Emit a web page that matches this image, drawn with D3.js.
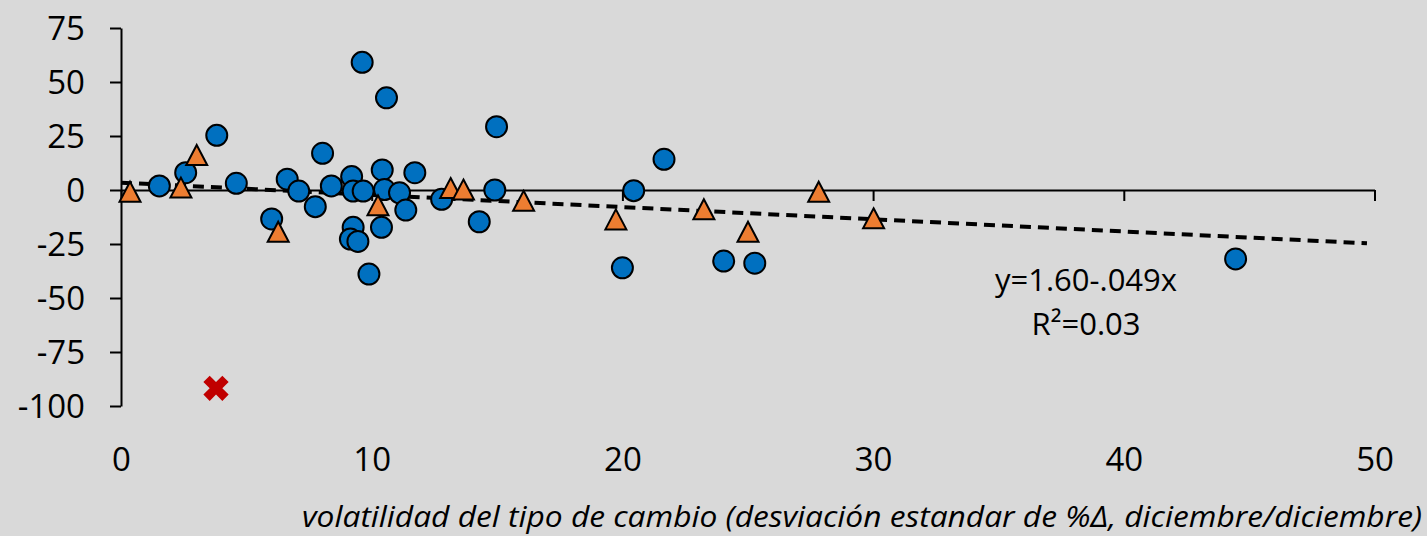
<!DOCTYPE html>
<html>
<head>
<meta charset="utf-8">
<script src="https://cdn.jsdelivr.net/npm/d3@7"></script>
<style>
  body { margin: 0; background: #d9d9d9; }
  text { font-family: "Open Sans", "Noto Sans", sans-serif; fill: #000; }
</style>
</head>
<body>
<div class="chart"></div>
<script>
// circulos azules
const circleX = [1.53, 2.58, 3.82, 4.60, 6.01, 6.63, 7.09, 7.75, 8.04, 8.39,
                 9.20, 9.26, 9.66, 9.62, 10.59, 10.42, 10.51, 11.11, 11.36, 11.72,
                 9.26, 10.39, 9.15, 9.45, 9.89, 12.79, 14.29, 14.91, 14.98, 20.0,
                 20.45, 21.66, 24.04, 25.28, 44.46];
const circleY = [1.9, 8.0, 25.3, 3.1, -13.4, 5.0, -0.5, -7.7, 17.0, 1.9,
                 6.2, -0.5, -0.5, 59.1, 42.7, 9.3, 0.2, -1.3, -9.3, 8.0,
                 -17.3, -17.3, -22.7, -23.8, -38.9, -4.3, -14.7, 0.0, 29.3, -36.0,
                 -0.3, 14.2, -32.9, -33.9, -31.9];

// triangulos naranjas
const triangleX = [0.36, 3.02, 2.39, 6.27, 10.25, 13.15, 13.66, 16.06, 19.74, 23.25, 25.01, 27.83, 30.02];
const triangleY = [-0.8, 16.2, 1.1, -19.3, -7.1, 0.9, 0.2, -5.0, -13.6, -8.9, -19.3, -0.8, -13.1];

// el punto rojo (x)
const outlierX = [3.79];
const outlierY = [-91.8];

// linea de tendencia (extremos)
const trendX = [0, 49.7];
const trendY = [3.4, -24.7];

const xTicks = [0, 10, 20, 30, 40, 50];
const yTicks = [75, 50, 25, 0, -25, -50, -75, -100];
const xTitle = "volatilidad del tipo de cambio (desviación estandar de %Δ, diciembre/diciembre)";
const eqLines = ["y=1.60-.049x", "R²=0.03"];

const width = 1427;
const height = 536;

const svg = d3.select("div.chart")
    .append("svg")
    .attr("width", width)
    .attr("height", height)
    .style("display", "block");

svg.append("rect")
    .attr("width", width)
    .attr("height", height)
    .attr("fill", "#d9d9d9");

const x = d3.scaleLinear().domain([0, 50]).range([121, 1374.5]);
const y = d3.scaleLinear().domain([-100, 75]).range([406, 28]);

// eje y (guion normal, no el signo menos de d3)
const yAxis = svg.append("g")
    .attr("transform", "translate(" + x(0) + ",0)")
    .call(d3.axisLeft(y).tickValues(yTicks).tickSize(11).tickSizeOuter(0).tickPadding(25)
        .tickFormat(function(d) { return String(d); }));
yAxis.select(".domain").attr("stroke-width", 2);
yAxis.selectAll(".tick line").attr("stroke-width", 2);
yAxis.selectAll("text")
    .style("font-size", "33px")
    .attr("dy", "0.36em");

// eje x sobre el cero
const xAxis = svg.append("g")
    .attr("transform", "translate(0," + y(0) + ")")
    .call(d3.axisBottom(x).tickValues(xTicks).tickSize(11).tickSizeOuter(0).tickPadding(0));
xAxis.select(".domain").attr("stroke-width", 2);
xAxis.selectAll(".tick line").attr("stroke-width", 2);
xAxis.selectAll("text")
    .style("font-size", "33px")
    .attr("y", 471 - y(0))
    .attr("dy", 0);

svg.append("text")
    .attr("x", 302)
    .attr("y", 527)
    .attr("textLength", 1120)
    .attr("lengthAdjust", "spacingAndGlyphs")
    .style("font-size", "29px")
    .style("font-style", "italic")
    .text(xTitle);

// tendencia
svg.append("line")
    .attr("x1", x(trendX[0]))
    .attr("y1", y(trendY[0]))
    .attr("x2", x(trendX[1]))
    .attr("y2", y(trendY[1]))
    .attr("stroke", "#000")
    .attr("stroke-width", 4)
    .attr("stroke-dasharray", "11,7");

svg.selectAll("text.eq")
    .data(eqLines)
    .enter()
    .append("text")
    .attr("class", "eq")
    .attr("x", 1086)
    .attr("y", function(d, i) { return 291 + i * 44; })
    .attr("text-anchor", "middle")
    .style("font-size", "31px")
    .text(function(d) { return d; });

const circles = circleX.map(function(d, i) { return {x: d, y: circleY[i]}; });
const triangles = triangleX.map(function(d, i) { return {x: d, y: triangleY[i]}; });
const outliers = outlierX.map(function(d, i) { return {x: d, y: outlierY[i]}; });

svg.append("g")
    .selectAll("circle")
    .data(circles)
    .enter()
    .append("circle")
    .attr("cx", function(d) { return x(d.x); })
    .attr("cy", function(d) { return y(d.y); })
    .attr("r", 10.5)
    .attr("fill", "#0070c0")
    .attr("stroke", "#000")
    .attr("stroke-width", 2);

// triangulo centrado en su caja
const tw = 21, th = 20;
svg.append("g")
    .selectAll("path")
    .data(triangles)
    .enter()
    .append("path")
    .attr("d", "M0," + (-th / 2) + "L" + (tw / 2) + "," + (th / 2) + "L" + (-tw / 2) + "," + (th / 2) + "Z")
    .attr("transform", function(d) { return "translate(" + x(d.x) + "," + y(d.y) + ")"; })
    .attr("fill", "#ed7d31")
    .attr("stroke", "#000")
    .attr("stroke-width", 2)
    .attr("stroke-linejoin", "miter");

svg.append("g")
    .selectAll("path")
    .data(outliers)
    .enter()
    .append("path")
    .attr("d", d3.symbol(d3.symbolCross, 400))
    .attr("transform", function(d) { return "translate(" + x(d.x) + "," + y(d.y) + ") rotate(45)"; })
    .attr("fill", "#c00000");
</script>
</body>
</html>
